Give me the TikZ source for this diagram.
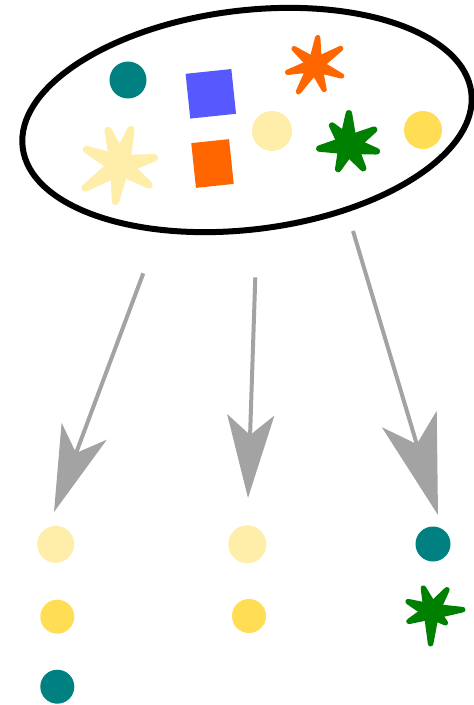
\documentclass[tikz,border=0pt]{standalone}
\usetikzlibrary{shapes.geometric,arrows.meta}
\definecolor{cteal}{HTML}{008080}
\definecolor{cblue}{HTML}{5858FF}
\definecolor{corange}{HTML}{FF6600}
\definecolor{clight}{HTML}{FFEEAA}
\definecolor{cyellow}{HTML}{FFDD55}
\definecolor{cgreen}{HTML}{008000}
\definecolor{cgray}{HTML}{A3A3A3}
% #1 centre, #2 colour, #3 body radius, #4 arm base half-width, #5 tip half-width, #6 list angle/length
\newcommand\starblob[6]{%
  \begin{scope}[shift={#1}]
    \fill[#2] (0,0) circle[radius=#3];
    \foreach \a/\r in {#6} {%
      \fill[#2, rotate=-\a] (0,-#4) -- ({\r-#5},-#5)
        arc[start angle=-90, end angle=90, radius=#5] -- (0,#4) -- cycle;}
  \end{scope}}
\tikzset{
  dot/.style={circle, fill=#1, draw=none, inner sep=0pt},
  sq/.style={rectangle, fill=#1, draw=none, inner sep=0pt, rotate=6},
  conn/.style={draw=cgray, line width=4pt},
}
\begin{document}
\begin{tikzpicture}[x=1pt,y=-1pt]
\useasboundingbox (0,0) rectangle (474,705);
% the set
\node[draw, ellipse, line width=6pt, rotate=7, minimum width=452pt, minimum height=219pt, inner sep=0pt] (set) at (247,120) {};
\node[dot=cteal, minimum size=37pt] (t1) at (128,80) {};
\node[sq=cblue, minimum width=46pt, minimum height=45pt] (b1) at (210.8,93.8) {};
\node[sq=corange, minimum width=38pt, minimum height=45pt] (o1) at (212.5,163.5) {};
\node[dot=clight, minimum size=40pt] (l1) at (272,131) {};
\node[dot=cyellow, minimum size=38pt] (y1) at (423,130) {};
\coordinate (os) at (315,65);
\coordinate (gs) at (348,145);
\coordinate (ls) at (120,165);
\starblob{(os)}{corange}{10}{7}{2.7}{-142/29.2, -84.3/30.2, -32.7/33.3, 22.5/31.4, 69.7/28.8, 121.8/34.1, 165.1/31}
\starblob{(gs)}{cgreen}{13.5}{9.5}{3.3}{-129.3/28.4, -88.4/35, -30.4/33.6, 12.3/32.8, 56.8/31, 112.2/29.2, 172.9/32.2}
\starblob{(ls)}{clight}{14}{10}{3.8}{-155.3/40.7, -108.9/40.2, -72.9/40.8, -11.9/38.8, 34.5/38.8, 97.1/40.3, 146.7/45.5}
% groups
\node[dot=clight, minimum size=37pt] (l2) at (55.7,544.3) {};
\node[dot=cyellow, minimum size=34pt] (y2) at (57.3,616.7) {};
\node[dot=cteal, minimum size=34pt] (t2) at (57.3,686.7) {};
\node[dot=clight, minimum size=38pt] (l3) at (247.3,544.3) {};
\node[dot=cyellow, minimum size=34pt] (y3) at (249,616) {};
\node[dot=cteal, minimum size=35pt] (t3) at (433,544) {};
\coordinate (gb) at (431.5,611.5);
\starblob{(gb)}{cgreen}{11}{8}{2.8}{-157.1/28.2, -109.1/27.5, -54.7/29.4, -3.4/34, 39.1/20.6, 91.6/35, 156.3/27.3}
% arrows
\coordinate (a1s) at (143.3,273.3);
\coordinate (a1e) at (54,512);
\coordinate (a2s) at (255.3,277.3);
\coordinate (a2e) at (248,498);
\coordinate (a3s) at (353,231);
\coordinate (a3e) at (438,515);
\draw[conn, -{Stealth[length=86pt,width=48pt,inset=23pt,fill=cgray]}] (a1s) -- (a1e);
\draw[conn, -{Stealth[length=83pt,width=47pt,inset=20pt,fill=cgray]}] (a2s) -- (a2e);
\draw[conn, -{Stealth[length=100pt,width=57pt,inset=26pt,fill=cgray]}] (a3s) -- (a3e);
\end{tikzpicture}
\end{document}
